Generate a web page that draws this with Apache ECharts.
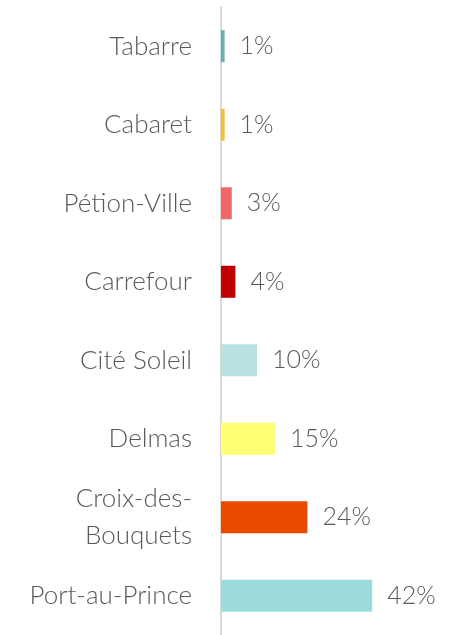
<!DOCTYPE html>
<html>
<head>
<meta charset="utf-8">
<script src="https://cdn.jsdelivr.net/npm/echarts@6/dist/echarts.min.js"></script>
<style>
  html, body { margin: 0; padding: 0; background: #fff; }
  #main { width: 460px; height: 635px; }
</style>
</head>
<body>
<div id="main"></div>
<script>
// communes, top to bottom
const communes = ['Tabarre', 'Cabaret', 'Pétion-Ville', 'Carrefour', 'Cité Soleil', 'Delmas', 'Croix-des-\nBouquets', 'Port-au-Prince'];
const shares = [1, 1, 3, 4, 10, 15, 24, 42];
const barColors = ['#5fb3b0', '#fdbb2f', '#f26868', '#c00000', '#b8e2e0', '#ffff73', '#ea4a00', '#9cdcdc'];

const font = 'Lato';
const myChart = echarts.init(document.getElementById('main'));
const option = {
  animation: false,
  grid: { left: 221, right: 59, top: 7, bottom: 0 },
  xAxis: {
    type: 'value',
    min: 0,
    max: 50,
    show: false
  },
  yAxis: {
    type: 'category',
    inverse: true,
    data: communes,
    axisLine: { lineStyle: { color: '#d9d9d9', width: 2 } },
    axisTick: { show: false },
    axisLabel: {
      margin: 29,
      color: '#595959',
      fontFamily: font,
      fontWeight: 300,
      fontSize: 26,
      lineHeight: 37
    }
  },
  series: [{
    type: 'bar',
    data: shares.map((v, i) => ({ value: v, itemStyle: { color: barColors[i] } })),
    barWidth: 32,
    label: {
      show: true,
      position: 'right',
      distance: 15,
      formatter: '{c}%',
      color: '#595959',
      fontFamily: font,
      fontWeight: 300,
      fontSize: 25
    }
  }]
};
myChart.setOption(option);
</script>
</body>
</html>
